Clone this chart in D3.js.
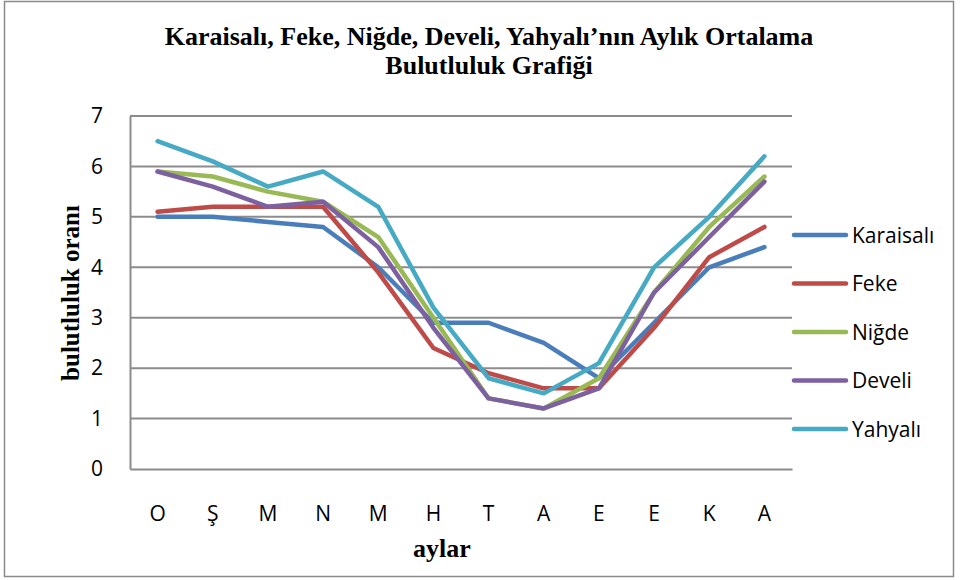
<!DOCTYPE html>
<html>
<head>
<meta charset="utf-8">
<script src="https://cdn.jsdelivr.net/npm/d3@7"></script>
<style>
  body { margin: 0; background: #fff; }
</style>
</head>
<body>
<div id="chart"></div>
<script>
// months (Ekim .. Eylül, first letters)
let months = ["O", "Ş", "M", "N", "M", "H", "T", "A", "E", "E", "K", "A"];
let seriesNames = ["Karaisalı", "Feke", "Niğde", "Develi", "Yahyalı"];
let karaisali = [5.0, 5.0, 4.9, 4.8, 4.0, 2.9, 2.9, 2.5, 1.8, 2.9, 4.0, 4.4];
let feke      = [5.1, 5.2, 5.2, 5.2, 3.9, 2.4, 1.9, 1.6, 1.6, 2.8, 4.2, 4.8];
let nigde     = [5.9, 5.8, 5.5, 5.3, 4.6, 3.0, 1.4, 1.2, 1.8, 3.5, 4.8, 5.8];
let develi    = [5.9, 5.6, 5.2, 5.3, 4.4, 2.8, 1.4, 1.2, 1.6, 3.5, 4.6, 5.7];
let yahyali   = [6.5, 6.1, 5.6, 5.9, 5.2, 3.2, 1.8, 1.5, 2.1, 4.0, 5.0, 6.2];
let yTicks = [0, 1, 2, 3, 4, 5, 6, 7];
let colors = ["#4A7EBB", "#BE4B48", "#98B954", "#7D60A0", "#46AAC5"];

let seriesValues = [karaisali, feke, nigde, develi, yahyali];

let width = 960, height = 580;
let margin = { top: 116, right: 168, bottom: 111, left: 130 };
let sansFont = '"Open Sans", Lato, sans-serif';
let serifFont = '"Liberation Serif", "DejaVu Serif", serif';

let svg = d3.select('#chart')
	.append('svg')
	.attr('width', width)
	.attr('height', height);

// outer frame
svg.append('rect')
	.attr('x', 4.5).attr('y', 1.5)
	.attr('width', 949).attr('height', 575)
	.attr('fill', 'none')
	.attr('stroke', '#8a8a8a')
	.attr('stroke-width', 1.5);

let xScale = d3.scaleBand()
	.domain(d3.range(months.length))
	.range([margin.left, width - margin.right]);

let yScale = d3.scaleLinear()
	.domain([0, 7])
	.range([height - margin.bottom, margin.top]);

// gridlines
svg.append('g')
	.selectAll('line')
	.data(yTicks.filter(d => d > 0))
	.enter()
	.append('line')
	.attr('x1', margin.left)
	.attr('x2', width - margin.right)
	.attr('y1', d => yScale(d))
	.attr('y2', d => yScale(d))
	.attr('stroke', '#8c8c8c')
	.attr('stroke-width', 2);

// axes
let yAxis = svg.append('g')
	.attr('transform', `translate(${margin.left},0)`)
	.call(d3.axisLeft(yScale).tickValues(yTicks).tickSize(0).tickPadding(27).tickFormat(d3.format('d')));

let xAxis = svg.append('g')
	.attr('transform', `translate(0,${height - margin.bottom})`)
	.call(d3.axisBottom(xScale).tickSize(0).tickPadding(37).tickFormat(i => months[i]));

[xAxis, yAxis].forEach(function (ax) {
	ax.select('.domain').attr('stroke', '#8c8c8c').attr('stroke-width', 2);
	ax.selectAll('text')
		.style('font-family', sansFont)
		.style('font-size', '21px')
		.attr('fill', '#000');
});

// lines
let line = d3.line()
	.x((d, i) => xScale(i) + xScale.bandwidth() / 2)
	.y(d => yScale(d));

svg.append('g')
	.selectAll('path')
	.data(seriesValues)
	.enter()
	.append('path')
	.attr('d', d => line(d))
	.attr('fill', 'none')
	.attr('stroke', (d, i) => colors[i])
	.attr('stroke-width', 4.5)
	.attr('stroke-linejoin', 'round')
	.attr('stroke-linecap', 'round');

// legend
let legend = svg.append('g')
	.attr('transform', 'translate(794,235)')
	.selectAll('g')
	.data(seriesNames)
	.enter()
	.append('g')
	.attr('transform', (d, i) => `translate(0,${i * 48.5})`);

legend.append('line')
	.attr('x1', 0).attr('x2', 52)
	.attr('stroke', (d, i) => colors[i])
	.attr('stroke-width', 4.5)
	.attr('stroke-linecap', 'round');

legend.append('text')
	.attr('x', 58)
	.attr('dy', '0.36em')
	.style('font-family', sansFont)
	.style('font-size', '21px')
	.text(d => d);

// titles
let title = svg.append('text')
	.attr('x', 489)
	.attr('y', 45)
	.style('text-anchor', 'middle')
	.style('font-family', serifFont)
	.style('font-weight', 'bold')
	.style('font-size', '26px');
title.append('tspan').attr('x', 489).text('Karaisalı, Feke, Niğde, Develi, Yahyalı’nın Aylık Ortalama');
title.append('tspan').attr('x', 489).attr('dy', 29).text('Bulutluluk Grafiği');

svg.append('text')
	.attr('x', 442)
	.attr('y', 557)
	.style('text-anchor', 'middle')
	.style('font-family', serifFont)
	.style('font-weight', 'bold')
	.style('font-size', '26px')
	.text('aylar');

svg.append('text')
	.attr('transform', 'rotate(-90)')
	.attr('x', -293)
	.attr('y', 79)
	.style('text-anchor', 'middle')
	.style('font-family', serifFont)
	.style('font-weight', 'bold')
	.style('font-size', '25px')
	.text('bulutluluk oranı');
</script>
</body>
</html>
